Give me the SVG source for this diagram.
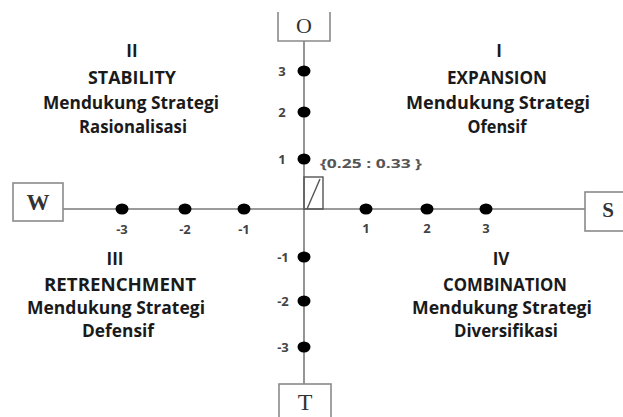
<svg xmlns="http://www.w3.org/2000/svg" width="623" height="417" viewBox="0 0 623 417">
<style>
.axis{stroke:#7a7a7a;stroke-width:1.6;fill:none}
.box{stroke:#8a8a8a;stroke-width:1.6;fill:#fff}
.dot{fill:#000}
.num{font-family:"Open Sans","Liberation Sans",sans-serif;font-weight:bold;font-size:13px;fill:#444;text-anchor:middle}
.q{font-family:"Open Sans","Liberation Sans",sans-serif;font-weight:bold;font-size:17px;fill:#1a1a1a;text-anchor:middle}
.lbl{font-family:"Liberation Serif","Times New Roman",serif;fill:#333;text-anchor:middle}
</style>
<rect width="623" height="417" fill="#fff"/>
<g id="connectors">
<line class="axis" x1="63" y1="209" x2="585" y2="209"/>
<line class="axis" x1="304" y1="41" x2="304" y2="384"/>
</g>
<g id="node-O">
<path class="box" d="M278,12 V41 H330 V12"/>
<text class="lbl" x="304" y="33" font-size="22">O</text>
</g>
<g id="node-T">
<rect class="box" x="279" y="384" width="52" height="45"/>
<text class="lbl" x="305" y="410" font-size="24">T</text>
</g>
<g id="node-W">
<rect class="box" x="13" y="183" width="50" height="38"/>
<text class="lbl" x="38" y="210" font-size="23" font-weight="bold">W</text>
</g>
<g id="node-S">
<rect class="box" x="585" y="192" width="50" height="39"/>
<text class="lbl" x="608" y="217" font-size="21" font-weight="bold">S</text>
</g>
<g id="dots">
<ellipse class="dot" cx="304" cy="71" rx="6.5" ry="5.5"/>
<ellipse class="dot" cx="304" cy="112" rx="6.5" ry="5.5"/>
<ellipse class="dot" cx="304" cy="159" rx="6.5" ry="5.5"/>
<ellipse class="dot" cx="304" cy="257" rx="6.5" ry="5.5"/>
<ellipse class="dot" cx="304" cy="301" rx="6.5" ry="5.5"/>
<ellipse class="dot" cx="304" cy="347" rx="6.5" ry="5.5"/>
<ellipse class="dot" cx="122" cy="209" rx="6.5" ry="5.5"/>
<ellipse class="dot" cx="185" cy="209" rx="6.5" ry="5.5"/>
<ellipse class="dot" cx="244" cy="209" rx="6.5" ry="5.5"/>
<ellipse class="dot" cx="366" cy="209" rx="6.5" ry="5.5"/>
<ellipse class="dot" cx="427" cy="209" rx="6.5" ry="5.5"/>
<ellipse class="dot" cx="486" cy="209" rx="6.5" ry="5.5"/>
</g>
<g id="scale-labels">
<text class="num" x="282" y="76">3</text>
<text class="num" x="282" y="117">2</text>
<text class="num" x="282" y="164">1</text>
<text class="num" x="283" y="262">-1</text>
<text class="num" x="283" y="306">-2</text>
<text class="num" x="283" y="352">-3</text>
<text class="num" x="122" y="234">-3</text>
<text class="num" x="185" y="234">-2</text>
<text class="num" x="244" y="234">-1</text>
<text class="num" x="366" y="233" fill="#3e3e58">1</text>
<text class="num" x="427" y="233" fill="#3e3e58">2</text>
<text class="num" x="486" y="233" fill="#3e3e58">3</text>
</g>
<g id="node-point">
<rect x="304" y="177" width="19" height="32" fill="none" stroke="#555" stroke-width="1.4"/>
<line x1="307" y1="209" x2="320" y2="179" stroke="#555" stroke-width="1.4"/>
<text x="320" y="168" font-family="'Open Sans','Liberation Sans',sans-serif" font-weight="bold" font-size="13" fill="#555" textLength="102" lengthAdjust="spacingAndGlyphs">{0.25 : 0.33 }</text>
</g>
<g id="node-I">
<text class="q" x="499" y="57">I</text>
<text class="q" x="497" y="84" textLength="100" lengthAdjust="spacingAndGlyphs">EXPANSION</text>
<text class="q" x="498" y="109" textLength="184" lengthAdjust="spacingAndGlyphs">Mendukung Strategi</text>
<text class="q" x="497" y="133" textLength="59" lengthAdjust="spacingAndGlyphs">Ofensif</text>
</g>
<g id="node-II">
<text class="q" x="132" y="57">II</text>
<text class="q" x="132" y="84" textLength="88" lengthAdjust="spacingAndGlyphs">STABILITY</text>
<text class="q" x="131" y="109" textLength="176" lengthAdjust="spacingAndGlyphs">Mendukung Strategi</text>
<text class="q" x="133" y="133" textLength="108" lengthAdjust="spacingAndGlyphs">Rasionalisasi</text>
</g>
<g id="node-III">
<text class="q" x="115" y="265">III</text>
<text class="q" x="120" y="291" textLength="152" lengthAdjust="spacingAndGlyphs">RETRENCHMENT</text>
<text class="q" x="116" y="314" textLength="178" lengthAdjust="spacingAndGlyphs">Mendukung Strategi</text>
<text class="q" x="118" y="337" textLength="72" lengthAdjust="spacingAndGlyphs">Defensif</text>
</g>
<g id="node-IV">
<text class="q" x="501" y="265">IV</text>
<text class="q" x="505" y="291" textLength="124" lengthAdjust="spacingAndGlyphs">COMBINATION</text>
<text class="q" x="502" y="314" textLength="180" lengthAdjust="spacingAndGlyphs">Mendukung Strategi</text>
<text class="q" x="506" y="337" textLength="104" lengthAdjust="spacingAndGlyphs">Diversifikasi</text>
</g>
</svg>
